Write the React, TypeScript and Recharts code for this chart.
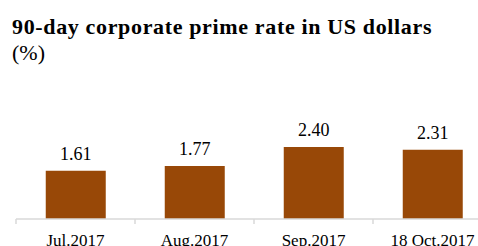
import { BarChart, Bar, XAxis, YAxis, LabelList } from "recharts";

const months = ["Jul.2017", "Aug.2017", "Sep.2017", "18 Oct.2017"];
const rates = [1.61, 1.77, 2.4, 2.31];

const data = months.map((m, i) => ({ month: m, rate: rates[i] }));

const FONT = '"Liberation Serif", "DejaVu Serif", serif';
const GRID = "#d9d9d9";

// category label plus the small tick marks sitting on the band edges
function MonthTick(props: any) {
  const { x, y, payload, index, visibleTicksCount } = props;
  const half = payload.offset || 0;
  const axisY = y - 15;
  return (
    <g>
      <line x1={x - half} x2={x - half} y1={axisY} y2={axisY + 5} stroke={GRID} strokeWidth={1.5} />
      {index === visibleTicksCount - 1 && (
        <line x1={x + half} x2={x + half} y1={axisY} y2={axisY + 5} stroke={GRID} strokeWidth={1.5} />
      )}
      <text x={x} y={y} dy="0.71em" textAnchor="middle" fill="#000" fontSize={17} fontFamily={FONT}>
        {payload.value}
      </text>
    </g>
  );
}

export default function App() {
  return (
    <div
      style={{
        position: "absolute",
        left: 0,
        top: 0,
        width: 478,
        height: 246,
        overflow: "hidden",
        background: "#ffffff",
        fontFamily: FONT,
      }}
    >
      <div
        style={{
          position: "absolute",
          left: 12,
          top: 14,
          fontSize: 22,
          letterSpacing: 0.65,
          fontWeight: "bold",
          color: "#000",
          whiteSpace: "nowrap",
        }}
      >
        90-day corporate prime rate in US dollars
      </div>
      <div style={{ position: "absolute", left: 12, top: 40, fontSize: 22, color: "#000" }}>(%)</div>
      <div style={{ position: "absolute", left: 0, top: 0 }}>
        <BarChart
          width={500}
          height={246}
          data={data}
          margin={{ top: 129, right: 8, bottom: 0, left: 16 }}
          barCategoryGap="25%"
        >
          <YAxis hide domain={[0, 3]} />
          <XAxis
            dataKey="month"
            height={27}
            tickLine={false}
            axisLine={{ stroke: GRID, strokeWidth: 1.5 }}
            tickSize={5}
            tickMargin={10}
            interval={0}
            tick={<MonthTick />}
          />
          <Bar dataKey="rate" fill="#984807" isAnimationActive={false}>
            <LabelList
              dataKey="rate"
              position="top"
              offset={11}
              formatter={(v: number) => v.toFixed(2)}
              style={{ fill: "#000", fontSize: 18, fontFamily: FONT }}
            />
          </Bar>
        </BarChart>
      </div>
    </div>
  );
}
